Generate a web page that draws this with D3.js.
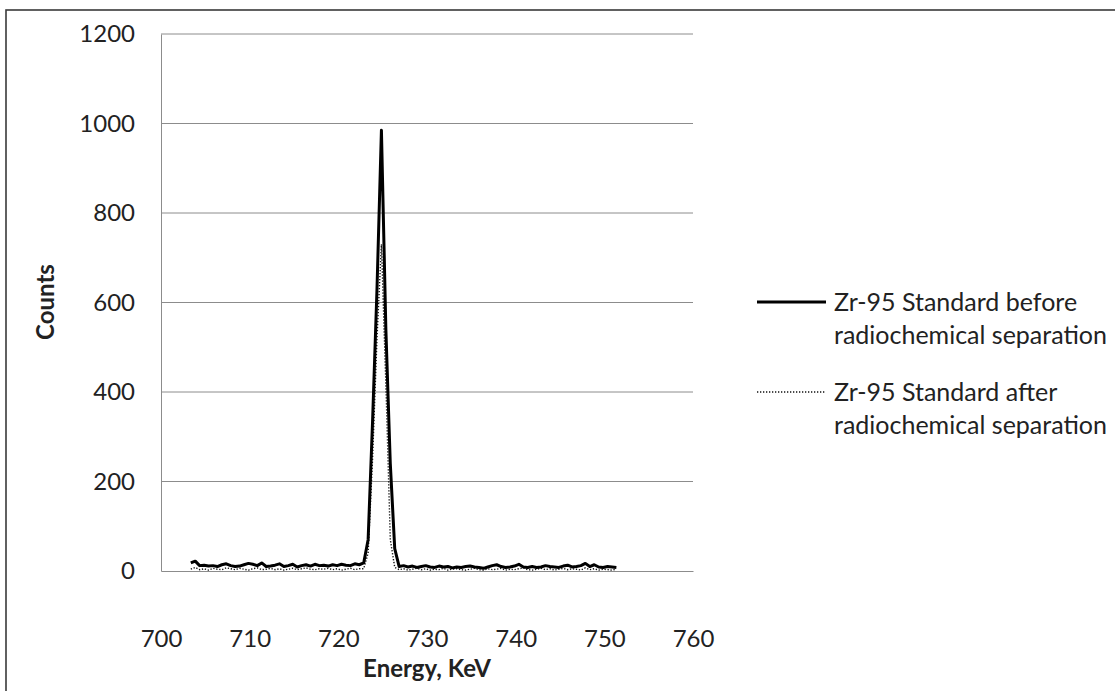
<!DOCTYPE html>
<html><head><meta charset="utf-8">
<script src="https://cdn.jsdelivr.net/npm/d3@7"></script>
<style>body{margin:0;background:#fff;} svg{display:block;} text{font-family:Lato,"Open Sans",sans-serif;fill:#222;}</style>
</head><body><svg id="c" width="1115" height="691"></svg>
<script>
const energy = [
703.36,703.86,704.36,704.86,705.36,705.86,706.36,706.86,707.36,707.86,
708.36,708.86,709.36,709.86,710.36,710.86,711.36,711.86,712.36,712.86,
713.36,713.86,714.36,714.86,715.36,715.86,716.36,716.86,717.36,717.86,
718.36,718.86,719.36,719.86,720.36,720.86,721.36,721.86,722.36,722.86,
723.36,723.86,724.36,724.86,725.36,725.86,726.36,726.86,727.36,727.86,
728.36,728.86,729.36,729.86,730.36,730.86,731.36,731.86,732.36,732.86,
733.36,733.86,734.36,734.86,735.36,735.86,736.36,736.86,737.36,737.86,
738.36,738.86,739.36,739.86,740.36,740.86,741.36,741.86,742.36,742.86,
743.36,743.86,744.36,744.86,745.36,745.86,746.36,746.86,747.36,747.86,
748.36,748.86,749.36,749.86,750.36,750.86,751.36];
const beforeCounts = [
18,22,12,13,11,12,10,14,16,12,
10,11,14,17,15,12,18,10,11,13,
16,10,12,15,9,12,14,11,15,12,
13,11,14,12,15,13,12,16,14,18,
70,334,630,985,540,240,50,10,12,9,
11,8,10,12,9,8,11,9,10,7,
9,8,10,11,9,8,6,9,12,14,
10,8,9,11,15,9,8,10,8,9,
12,10,9,8,11,13,9,10,12,17,
10,14,9,8,10,9,8];
const afterCounts = [
4,8,3,5,2,6,4,3,7,5,
3,6,4,2,5,7,3,4,6,3,
5,2,4,6,3,5,7,4,3,5,
4,6,3,5,2,4,6,3,5,5,
40,250,520,730,420,70,8,3,5,2,
4,6,3,5,2,4,3,6,2,4,
5,3,2,4,6,3,2,5,3,4,
6,2,4,3,5,7,3,2,4,6,
3,5,2,4,6,3,5,4,2,7,
3,5,2,4,3,2,4];
const xTicks = [700,710,720,730,740,750,760];
const yTicks = [0,200,400,600,800,1000,1200];
const seriesNames = ["Zr-95 Standard before|radiochemical separation","Zr-95 Standard after|radiochemical separation"];

const svg = d3.select("#c");
svg.append("rect").attr("x",6).attr("y",10).attr("width",1130).attr("height",700)
  .attr("fill","#fff").attr("stroke","#3a3a3a").attr("stroke-width",1.6);

const L=161,R=693,T=34,B=571;
const x = d3.scaleLinear().domain([700,760]).range([L,R]);
const y = d3.scaleLinear().domain([0,1200]).range([B,T]);
const FF = "Lato,'Open Sans',sans-serif";

// gridlines
svg.append("g").selectAll("line").data(yTicks.filter(d=>d>0)).join("line")
  .attr("x1",L).attr("x2",R).attr("y1",d=>y(d)).attr("y2",d=>y(d))
  .attr("stroke","#8c8c8c").attr("stroke-width",1);

// axes
const yAxis = svg.append("g").attr("transform",`translate(${L},0)`)
  .call(d3.axisLeft(y).tickValues(yTicks).tickFormat(d3.format("d")).tickSize(0).tickPadding(26));
yAxis.select(".domain").attr("stroke","#8c8c8c");
yAxis.selectAll("text").attr("font-size",24).attr("fill","#222").style("font-family",FF);

const xAxis = svg.append("g").attr("transform",`translate(0,${B})`)
  .call(d3.axisBottom(x).tickValues(xTicks).tickFormat(d3.format("d")).tickSize(0).tickPadding(59));
xAxis.select(".domain").attr("stroke","#8c8c8c");
xAxis.selectAll("text").attr("font-size",24).attr("fill","#222").style("font-family",FF);

const line = d3.line().x(d=>x(d[0])).y(d=>y(d[1]));
const dAfter = energy.map((e,i)=>[e,afterCounts[i]]);
const dBefore = energy.map((e,i)=>[e,beforeCounts[i]]);
svg.append("path").datum(dAfter).attr("d",line).attr("fill","none")
  .attr("stroke","#111").attr("stroke-width",1.4).attr("stroke-dasharray","1.3,1.7");
svg.append("path").datum(dBefore).attr("d",line).attr("fill","none")
  .attr("stroke","#000").attr("stroke-width",3).attr("stroke-linejoin","round");

// titles
svg.append("text").attr("x",427).attr("y",677).attr("text-anchor","middle")
  .attr("font-size",24).attr("font-weight","bold").text("Energy, KeV");
svg.append("text").attr("transform","translate(54,302) rotate(-90)").attr("text-anchor","middle")
  .attr("font-size",24).attr("font-weight","bold").text("Counts");

// legend
const lg = svg.append("g");
const ly = [302,392];
lg.append("line").attr("x1",757).attr("x2",826).attr("y1",ly[0]).attr("y2",ly[0])
  .attr("stroke","#000").attr("stroke-width",3);
lg.append("line").attr("x1",757).attr("x2",826).attr("y1",ly[1]).attr("y2",ly[1])
  .attr("stroke","#111").attr("stroke-width",1.4).attr("stroke-dasharray","1.3,1.7");
seriesNames.forEach((s,i)=>{
  s.split("|").forEach((t,j)=>{
    lg.append("text").attr("x",834).attr("y",ly[i]+9+j*33).attr("font-size",25).text(t);
  });
});
</script></body></html>
